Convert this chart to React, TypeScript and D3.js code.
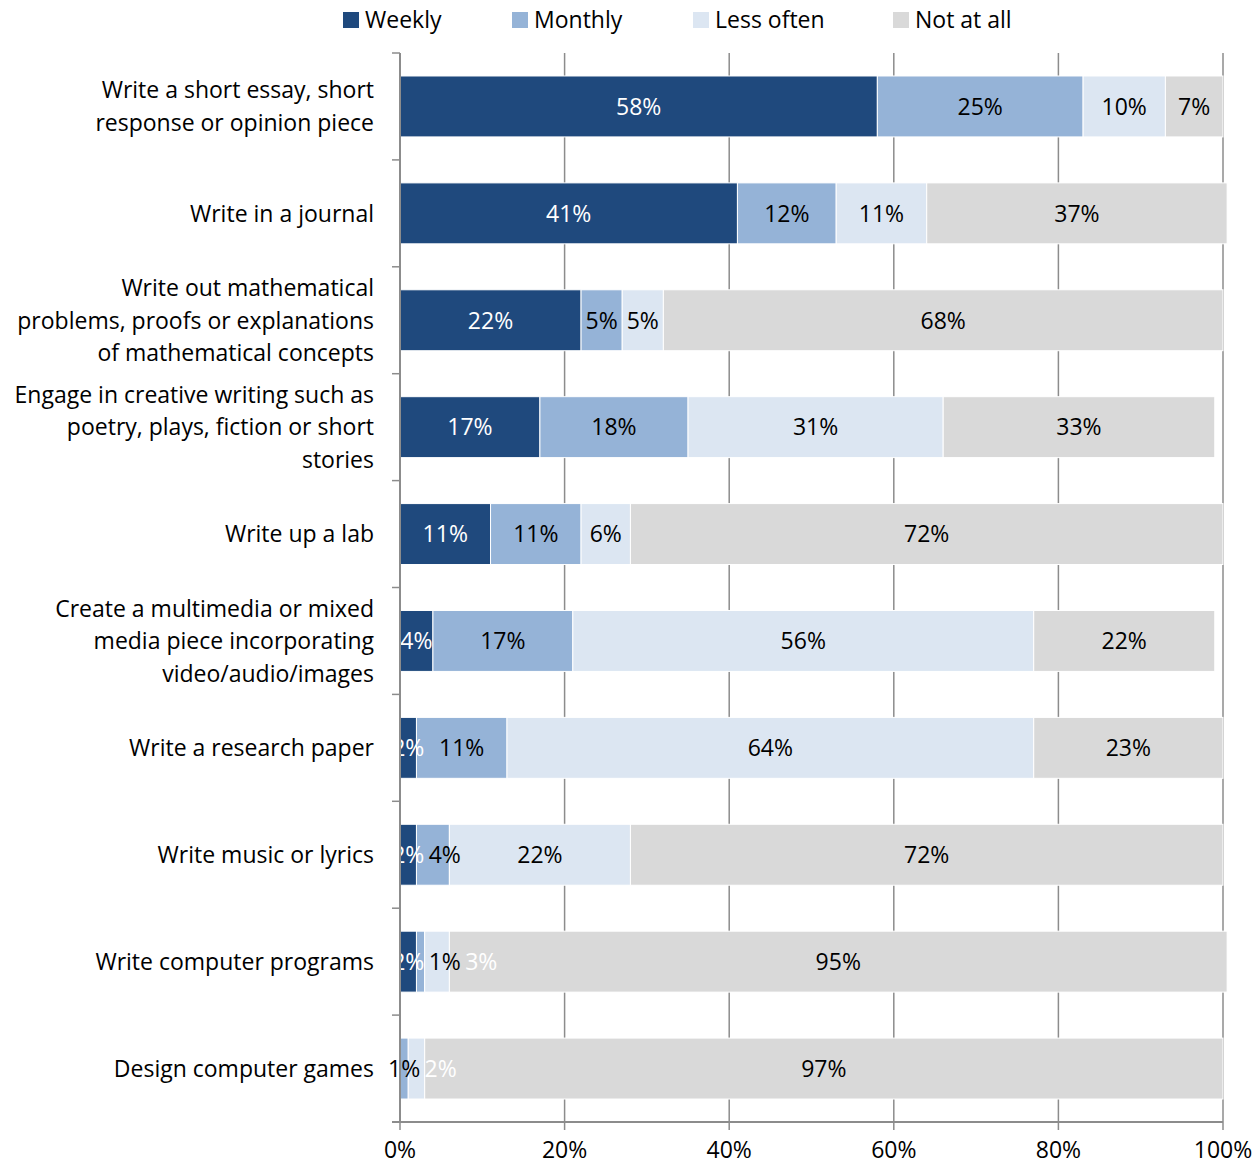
import * as d3 from 'd3';
import React from 'react';

const seriesNames = ['Weekly', 'Monthly', 'Less often', 'Not at all'];
const seriesColors = ['#1F497D', '#95B3D7', '#DCE6F2', '#D9D9D9'];

const categoryLines: string[][] = [
    ['Write a short essay, short', 'response or opinion piece'],
    ['Write in a journal'],
    ['Write out mathematical', 'problems, proofs or explanations', 'of mathematical concepts'],
    ['Engage in creative writing such as', 'poetry, plays, fiction or short', 'stories'],
    ['Write up a lab'],
    ['Create a multimedia or mixed', 'media piece incorporating', 'video/audio/images'],
    ['Write a research paper'],
    ['Write music or lyrics'],
    ['Write computer programs'],
    ['Design computer games'],
];

// shares in percent (labels are the rounded values)
const weekly = [58, 41, 22, 17, 11, 4, 2, 2, 2, 0];
const monthly = [25, 12, 5, 18, 11, 17, 11, 4, 1, 1];
const lessOften = [10, 11, 5, 31, 6, 56, 64, 22, 3, 2];
const notAtAll = [7, 36.5, 68, 33, 72, 22, 23, 72, 94.5, 97];

const xTicks = [0, 20, 40, 60, 80, 100];

const FONT = '"Open Sans", sans-serif';
const FS = 23;

const width = 1257;
const height = 1166;
const left = 400;
const right = 1223;
const top = 53;
const bottom = 1122;

// rough width of a label like "12%"
const textWidth = (s: string) =>
    s.split('').reduce((w, c) => w + (c === '%' ? 19.5 : 13), 0);

export default function App() {
    const values = [weekly, monthly, lessOften, notAtAll];
    const ids = categoryLines.map((_, i) => String(i));

    const x = d3.scaleLinear().domain([0, 100]).range([left, right]);
    const y = d3.scaleBand<string>().domain(ids).range([top, bottom]).paddingInner(0.43).paddingOuter(0.215);
    const step = y.step();

    const rows = ids.map((id, i) => {
        let acc = 0;
        let prevRight = -Infinity;
        return values.map((vals, s) => {
            const v = vals[i];
            const x0 = x(acc);
            acc += v;
            const x1 = x(acc);
            const text = Math.round(v) + '%';
            const w = textWidth(text);
            let cx = (x0 + x1) / 2;
            if (v > 0) {
                cx = Math.max(cx, prevRight + 4 + w / 2);
                prevRight = cx + w / 2;
            }
            let color = s === 0 ? '#FFFFFF' : '#000000';
            if (s === 2 && v <= 3) color = '#FFFFFF';
            return { id, s, v, x0, x1, cx, text, color };
        });
    });

    return (
        <svg width={width} height={height} style={{ position: 'absolute', left: 0, top: 0 }} fontFamily={FONT}>
            <defs>
                <clipPath id="plotClip">
                    <rect x={398} y={0} width={width} height={height} />
                </clipPath>
            </defs>
            <rect width={width} height={height} fill="#fff" />

            {/* legend */}
            {seriesNames.map((name, i) => {
                const lx = [343, 512, 693, 893][i];
                return (
                    <g key={name}>
                        <rect x={lx} y={12} width={16} height={16} fill={seriesColors[i]} />
                        <text x={lx + 22} y={28} fontSize={FS} fill="#000">{name}</text>
                    </g>
                );
            })}

            {/* gridlines */}
            {xTicks.filter(t => t > 0).map(t => (
                <line key={t} x1={x(t)} x2={x(t)} y1={top} y2={bottom + 8} stroke="#8C8C8C" strokeWidth={1.5} />
            ))}

            {/* bars */}
            {rows.map(row => row.map(d => (
                <rect key={d.id + '-' + d.s} x={d.x0} y={y(d.id)} width={Math.max(0, d.x1 - d.x0)}
                    height={y.bandwidth()} fill={seriesColors[d.s]} stroke="#fff" strokeWidth={1} />
            )))}

            {/* value labels */}
            {rows.map(row => row.filter(d => d.v > 0).map(d => (
                <text key={'l' + d.id + '-' + d.s} x={d.cx} y={(y(d.id) as number) + y.bandwidth() / 2}
                    dy="0.36em" textAnchor="middle" fontSize={FS} fill={d.color}
                    clipPath={d.s === 0 ? 'url(#plotClip)' : undefined}>{d.text}</text>
            )))}

            {/* category axis */}
            <line x1={left} x2={left} y1={top} y2={bottom} stroke="#8C8C8C" strokeWidth={2} />
            {d3.range(ids.length + 1).map(i => (
                <line key={'t' + i} x1={left - 8} x2={left} y1={top + i * step} y2={top + i * step} stroke="#8C8C8C" strokeWidth={1.5} />
            ))}
            {categoryLines.map((lines, i) => {
                const cy = (y(ids[i]) as number) + y.bandwidth() / 2;
                const lh = 32.5;
                return (
                    <text key={'c' + i} textAnchor="end" fontSize={FS} fill="#000">
                        {lines.map((ln, j) => (
                            <tspan key={j} x={374} y={cy + (j - (lines.length - 1) / 2) * lh} dy="0.36em">{ln}</tspan>
                        ))}
                    </text>
                );
            })}

            {/* value axis */}
            <line x1={left - 8} x2={right} y1={bottom} y2={bottom} stroke="#8C8C8C" strokeWidth={2} />
            <line x1={left} x2={left} y1={bottom} y2={bottom + 8} stroke="#8C8C8C" strokeWidth={1.5} />
            {xTicks.map(t => (
                <text key={'x' + t} x={x(t)} y={1158} textAnchor="middle" fontSize={FS} fill="#000">{t + '%'}</text>
            ))}
        </svg>
    );
}
